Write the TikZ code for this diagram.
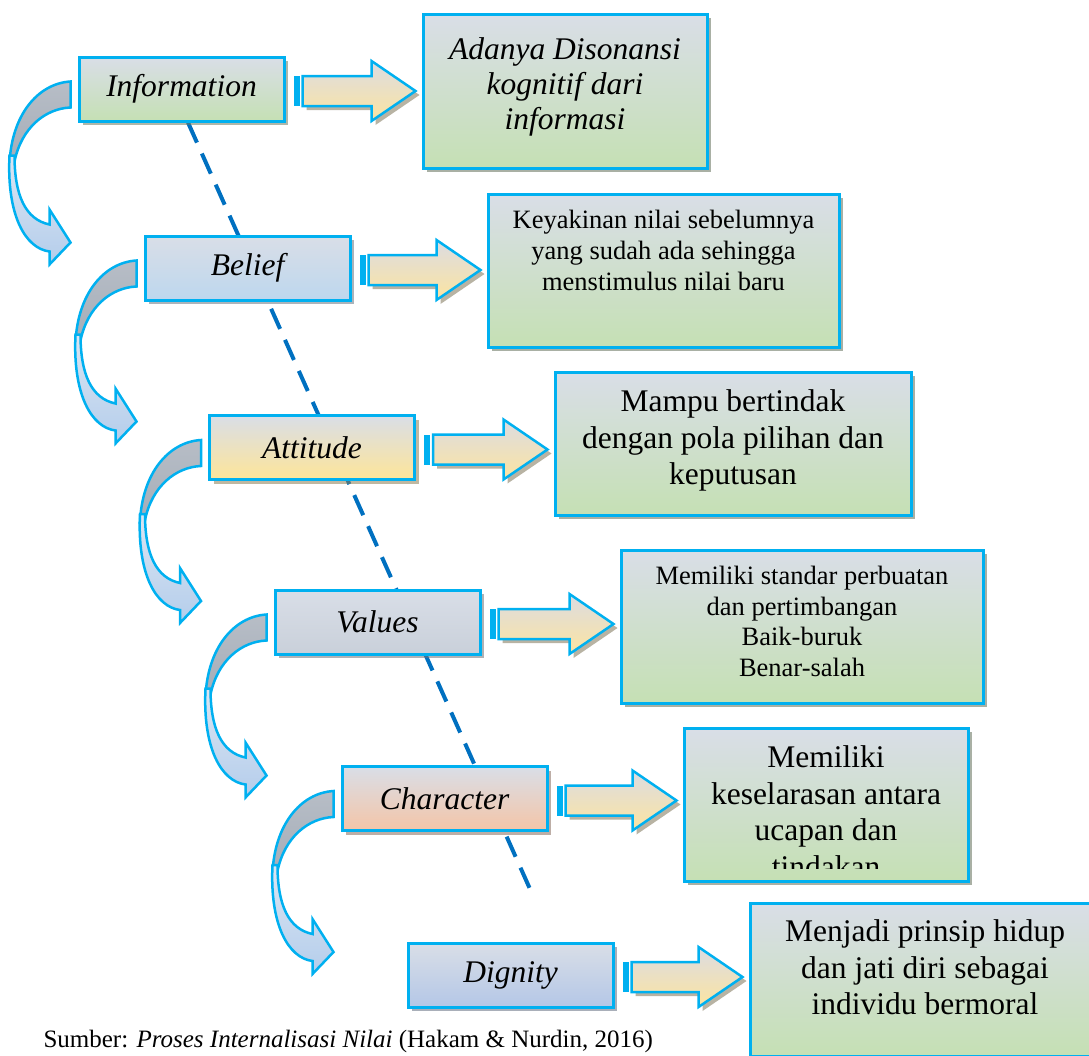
\documentclass[tikz,border=0pt]{standalone}
\usepackage{fontspec}
\setmainfont{Liberation Serif}
\usepackage{tikz}
\usetikzlibrary{calc,shadows,backgrounds}

\definecolor{cyanline}{HTML}{00B0F0}
\definecolor{topgray}{HTML}{D9DEE7}
\definecolor{boxgreen}{HTML}{C5E0B4}
\definecolor{beliefblue}{HTML}{BDD7EE}
\definecolor{attyellow}{HTML}{FEE599}
\definecolor{valgray}{HTML}{C9D0DA}
\definecolor{charpeach}{HTML}{F4C5A8}
\definecolor{dignblue}{HTML}{B4C7E7}
\definecolor{arrowtop}{HTML}{DCDCE2}
\definecolor{arrowbot}{HTML}{FCE4A0}
\definecolor{curvegray}{HTML}{A5ADB8}
\definecolor{curvetop}{HTML}{DCE6F3}
\definecolor{curvebot}{HTML}{B4CDEB}
\definecolor{dashblue}{HTML}{0070C0}

\tikzset{
  conc/.style={draw=cyanline, line width=3pt, minimum width=205pt, minimum height=64pt,
    top color=topgray, bottom color=#1, font=\fontsize{31.5}{36}\selectfont\itshape,
    drop shadow={shadow xshift=4pt, shadow yshift=-4pt, fill=#1!55!black, opacity=0.55}},
  outbox/.style={draw=cyanline, line width=3pt, top color=topgray, bottom color=boxgreen,
    drop shadow={shadow xshift=4pt, shadow yshift=-4pt, fill=boxgreen!50!black, opacity=0.55}},
  bigtext/.style={font=\fontsize{31.5}{36.5}\selectfont, align=center},
  smalltext/.style={font=\fontsize{26.5}{30.7}\selectfont, align=center},
  flowarrow/.style={draw=cyanline, line width=2.5pt, line join=miter, top color=arrowtop, bottom color=arrowbot,
    drop shadow={shadow xshift=4pt, shadow yshift=-4pt, fill=arrowbot!45!black, opacity=0.5}},
  curveback/.style={draw=cyanline, line width=2.5pt, top color=curvegray!80, bottom color=curvegray},
  curvefront/.style={draw=cyanline, line width=2.5pt, top color=curvetop, bottom color=curvebot},
  dashline/.style={draw=dashblue, line width=4pt, dash pattern=on 22pt off 12pt}
}

\begin{document}
\begin{tikzpicture}[x=1pt, y=-1pt]
  \useasboundingbox (0,0) rectangle (1089,1055);
  \clip (0,0) rectangle (1089,1055);

  % --- left column: stages ------------------------------------------------
  \node[conc=boxgreen]   (info)      at (181.5,89)  {Information};
  \node[conc=beliefblue] (belief)    at (247.5,268) {Belief};
  \node[conc=attyellow]  (attitude)  at (312,447.5) {Attitude};
  \node[conc=valgray]    (values)    at (377.5,622) {Values};
  \node[conc=charpeach]  (character) at (444.5,798.5) {Character};
  \node[conc=dignblue]   (dignity)   at (510.5,975) {Dignity};

  % --- right column: descriptions -----------------------------------------
  \node[outbox, minimum width=284pt, minimum height=154pt] (r1) at (565,91) {};
  \node[outbox, minimum width=351pt, minimum height=153pt] (r2) at (663.5,270.5) {};
  \node[outbox, minimum width=356pt, minimum height=143pt] (r3) at (733,443.5) {};
  \node[outbox, minimum width=362pt, minimum height=153pt] (r4) at (802,626.5) {};
  \node[outbox, minimum width=284pt, minimum height=153pt] (r5) at (826,804.5) {};
  \node[outbox, minimum width=350pt, minimum height=153pt] (r6) at (925,979.5) {};

  \node[bigtext, font=\fontsize{31.5}{35}\selectfont\itshape] (t1) at ($(r1.north)+(0,74)$)
       {Adanya Disonansi\\kognitif dari\\informasi};
  \node[smalltext] (t2) at ($(r2.north)+(0,58)$)
       {Keyakinan nilai sebelumnya\\yang sudah ada sehingga\\menstimulus nilai baru};
  \node[bigtext] (t3) at ($(r3.north)+(0,70)$)
       {Mampu bertindak\\dengan pola pilihan dan\\keputusan};
  \node[smalltext] (t4) at ($(r4.north)+(0,73)$)
       {Memiliki standar perbuatan\\dan pertimbangan\\Baik-buruk\\Benar-salah};
  \begin{scope}
    \clip (r5.north west) rectangle ($(r5.south east)+(0,-14)$);
    \node[bigtext] (t5) at ($(r5.north)+(0,85)$)
         {Memiliki\\keselarasan antara\\ucapan dan\\tindakan};
  \end{scope}
  \node[bigtext] (t6) at ($(r6.north)+(0,66)$)
       {Menjadi prinsip hidup\\dan jati diri sebagai\\individu bermoral};

  % --- block arrows ---------------------------------------------------------
  \foreach \a/\b in {info/r1,belief/r2,attitude/r3,values/r4,character/r5,dignity/r6}{
    \coordinate (t0) at ($(\a.east)+(8,2)$);
    \coordinate (tip) at ($(\b.west |- t0)+(-6,0)$);
    \fill[cyanline] ($(t0)+(0,-15)$) rectangle ($(t0)+(6,15)$);
    \draw[flowarrow] ($(t0)+(9,-15)$) -- ($(tip)+(-44,-15)$) -- ($(tip)+(-44,-30)$)
      -- (tip) -- ($(tip)+(-44,30)$) -- ($(tip)+(-44,15)$) -- ($(t0)+(9,15)$) -- cycle;
  }

  % --- curved arrows between stages ------------------------------------------
  \foreach \n in {info,belief,attitude,values,character}{
    \begin{scope}[shift={(\n.north west)}]
      \draw[curveback] (-7,26) -- (-7,52) .. controls (-32,53) and (-56,72) .. (-63,106)
        -- (-68,108) .. controls (-66,60) and (-40,28) .. (-7,26) -- cycle;
      \draw[curvefront] (-68,100) .. controls (-71,160) and (-52,193) .. (-28,196)
        -- (-28,209) -- (-7,187) -- (-28,154) -- (-28,169)
        .. controls (-52,164) and (-63,140) .. (-63,100) -- cycle;
    \end{scope}
  }

  % --- dashed guide line ------------------------------------------------------
  \coordinate (dashend) at (530,889);
  \begin{scope}[on background layer]
    \draw[dashline] ($(info.south)+(6.5,0)$) -- (dashend);
  \end{scope}

  \node[anchor=base west, font=\fontsize{25}{29}\selectfont] (caption) at (40,1047)
       {Sumber: \textit{Proses Internalisasi Nilai} (Hakam \& Nurdin, 2016)};
\end{tikzpicture}
\end{document}
